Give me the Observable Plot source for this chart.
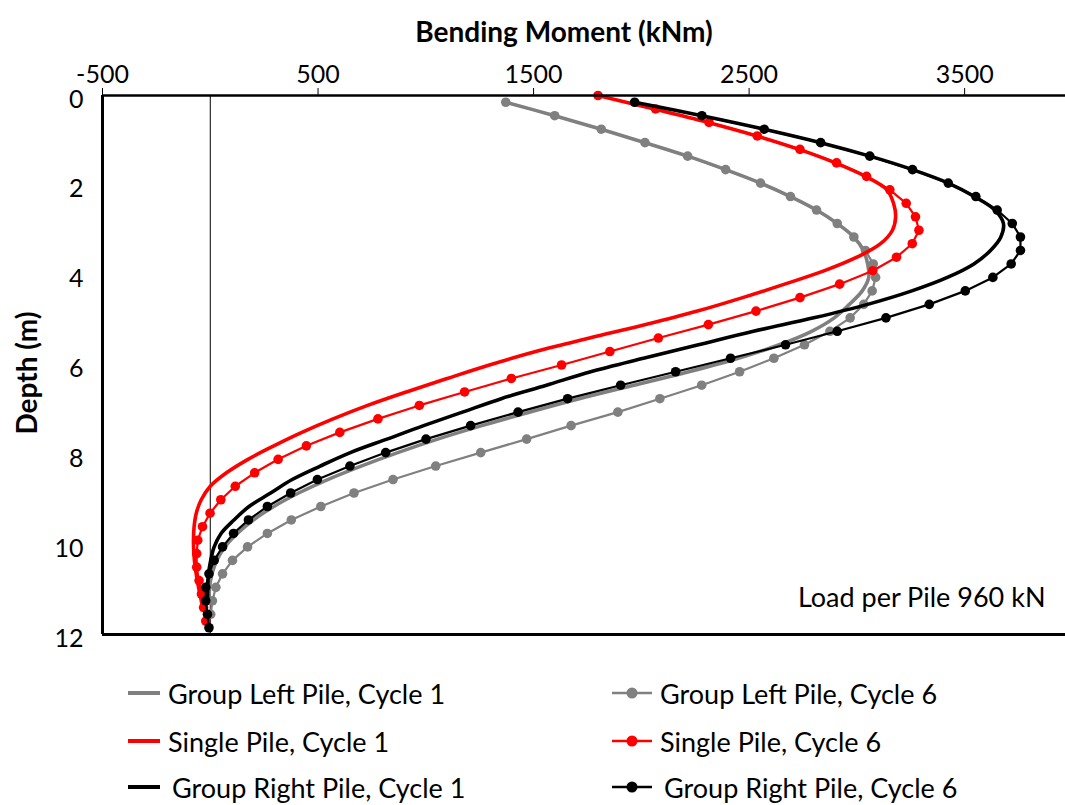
<!DOCTYPE html>
<html>
<head>
<meta charset="utf-8">
<script src="https://cdn.jsdelivr.net/npm/d3@7"></script>
<script src="https://cdn.jsdelivr.net/npm/@observablehq/plot@0.6"></script>
<style>
  body { margin: 0; background: #fff; }
  #wrap { position: relative; width: 1065px; height: 805px; font-family: Lato, "Open Sans", sans-serif; }
  .leg { position: absolute; display: flex; align-items: center; height: 40px; font-size: 27px; color: #000; white-space: nowrap; }
  .leg svg { display: block; }
</style>
</head>
<body>
<div id="wrap"><div id="chart"></div></div>
<script>
// ---- Data ----
const seriesNames = ["Group Left Pile, Cycle 1", "Group Left Pile, Cycle 6", "Single Pile, Cycle 1", "Single Pile, Cycle 6", "Group Right Pile, Cycle 1", "Group Right Pile, Cycle 6"];
const xTicks = [-500, 500, 1500, 2500, 3500];
const yTicks = [0, 2, 4, 6, 8, 10, 12];

// Group Left Pile, Cycle 1 (smooth line)
const glC1Depth = [0.15,0.45,0.75,1.05,1.35,1.65,1.95,2.25,2.55,2.85,3.15,3.45,3.75,4.05,4.35,4.65,4.95,5.25,5.55,5.85,6.15,6.45,6.75,7.05,7.35,7.65,7.95,8.25,8.55,8.85,9.15,9.45,9.75,10.05,10.35,10.65,10.95,11.25];
const glC1Moment = [1371,1598,1814,2017,2215,2391,2553,2692,2813,2909,2986,3030,3050,3055,3025,2965,2895,2790,2640,2450,2220,1965,1712,1480,1260,1055,870,700,545,410,295,200,125,68,30,8,-3,-5];

// Group Left Pile, Cycle 6 (markers)
const glC6Depth = [0.15,0.45,0.75,1.05,1.35,1.65,1.95,2.25,2.55,2.85,3.15,3.45,3.75,4.05,4.35,4.65,4.95,5.25,5.55,5.85,6.15,6.45,6.75,7.05,7.35,7.65,7.95,8.25,8.55,8.85,9.15,9.45,9.75,10.05,10.35,10.65,10.95,11.25,11.55];
const glC6Moment = [1371,1598,1814,2017,2215,2391,2553,2692,2813,2909,2986,3040,3076,3087,3071,3032,2969,2875,2757,2615,2456,2280,2086,1891,1674,1468,1255,1046,848,667,513,376,265,173,103,57,26,10,2];

// Single Pile, Cycle 1 (smooth line)
const spC1Depth = [0,0.3,0.6,0.9,1.2,1.5,1.8,2.1,2.4,2.7,3.0,3.3,3.6,3.9,4.2,4.5,4.8,5.1,5.4,5.7,6.0,6.3,6.6,6.9,7.2,7.5,7.8,8.1,8.4,8.7,9.0,9.3,9.6,9.9,10.2,10.5,10.8,11.1,11.4];
const spC1Moment = [1799,2060,2310,2535,2732,2900,3040,3140,3170,3180,3165,3110,3000,2850,2665,2470,2260,2020,1760,1510,1295,1100,910,730,570,425,295,175,75,0,-42,-65,-75,-78,-76,-70,-60,-48,-35];

// Single Pile, Cycle 6 (markers)
const spC6Depth = [0,0.3,0.6,0.9,1.2,1.5,1.8,2.1,2.4,2.7,3.0,3.3,3.6,3.9,4.2,4.5,4.8,5.1,5.4,5.7,6.0,6.3,6.6,6.9,7.2,7.5,7.8,8.1,8.4,8.7,9.0,9.3,9.6,9.9,10.2,10.5,10.8,11.1,11.4,11.7];
const spC6Moment = [1799,2066,2314,2538,2736,2906,3045,3153,3229,3272,3288,3257,3184,3074,2920,2736,2532,2311,2079,1854,1630,1397,1180,970,778,601,446,315,206,116,49,-1,-36,-58,-63,-63,-52,-41,-31,-21];

// Group Right Pile, Cycle 1 (smooth line)
const grC1Depth = [0.15,0.45,0.75,1.05,1.35,1.65,1.95,2.25,2.55,2.85,3.15,3.45,3.75,4.05,4.35,4.65,4.95,5.25,5.55,5.85,6.15,6.45,6.75,7.05,7.35,7.65,7.95,8.25,8.55,8.85,9.15,9.45,9.75,10.05,10.35,10.65,10.95,11.25];
const grC1Moment = [1969,2281,2570,2832,3060,3258,3424,3545,3640,3680,3668,3620,3543,3420,3255,3050,2800,2520,2265,2010,1765,1560,1350,1170,990,820,650,510,380,280,180,110,50,18,2,-8,-12,-12];

// Group Right Pile, Cycle 6 (markers)
const grC6Depth = [0.15,0.45,0.75,1.05,1.35,1.65,1.95,2.25,2.55,2.85,3.15,3.45,3.75,4.05,4.35,4.65,4.95,5.25,5.55,5.85,6.15,6.45,6.75,7.05,7.35,7.65,7.95,8.25,8.55,8.85,9.15,9.45,9.75,10.05,10.35,10.65,10.95,11.25,11.55,11.85];
const grC6Moment = [1969,2281,2570,2832,3060,3258,3424,3552,3651,3721,3759,3759,3716,3631,3503,3336,3135,2909,2669,2414,2159,1904,1658,1428,1208,1001,814,648,497,373,265,177,108,57,18,-6,-21,-21,-13,-6];

const colors = { gl: "#808080", sp: "#ff0000", gr: "#000000" };

function rows(name, depths, moments) {
  return depths.map((d, i) => ({ series: name, depth: d, moment: moments[i] }));
}
const glC1 = rows(seriesNames[0], glC1Depth, glC1Moment);
const glC6 = rows(seriesNames[1], glC6Depth, glC6Moment);
const spC1 = rows(seriesNames[2], spC1Depth, spC1Moment);
const spC6 = rows(seriesNames[3], spC6Depth, spC6Moment);
const grC1 = rows(seriesNames[4], grC1Depth, grC1Moment);
const grC6 = rows(seriesNames[5], grC6Depth, grC6Moment);

const smooth = (data, color) => Plot.line(data, { x: "moment", y: "depth", stroke: color, strokeWidth: 3.6, curve: "catmull-rom" });
const marked = (data, color) => [
  Plot.line(data, { x: "moment", y: "depth", stroke: color, strokeWidth: 2.2 }),
  Plot.dot(data, { x: "moment", y: "depth", r: 4.8, fill: color, stroke: "none" })
];

const chart = Plot.plot({
  width: 1065,
  height: 660,
  marginTop: 95,
  marginBottom: 26,
  marginLeft: 102,
  marginRight: 0,
  style: { fontFamily: "Lato, 'Open Sans', sans-serif", fontSize: "25px", color: "#000", background: "#fff" },
  x: { domain: [-500, 3968] },
  y: { domain: [0, 12], reverse: true },
  marks: [
    Plot.ruleX([0], { stroke: "#000", strokeWidth: 1 }),
    smooth(glC1, colors.gl),
    ...marked(glC6, colors.gl),
    smooth(spC1, colors.sp),
    ...marked(spC6, colors.sp),
    smooth(grC1, colors.gr),
    ...marked(grC6, colors.gr),
    Plot.ruleY([0], { stroke: "#000", strokeWidth: 2.5 }),
    Plot.ruleY([12], { stroke: "#000", strokeWidth: 3 }),
    Plot.ruleX([-500], { stroke: "#000", strokeWidth: 3 }),
    Plot.axisX({ anchor: "top", ticks: xTicks, tickSize: 8, tickPadding: 5, tickFormat: d => String(d), label: null, stroke: "#000", fill: "#000" }),
    Plot.axisY({ anchor: "left", ticks: yTicks, tickSize: 0, tickPadding: 19, tickFormat: d => String(d), label: null, dy: 4, fill: "#000" }),
    Plot.text(["Bending Moment (kNm)"], { frameAnchor: "top", dx: -20, dy: -73, textAnchor: "middle", fontWeight: "bold", fontSize: 28, fill: "#000" }),
    Plot.text(["Depth (m)"], { frameAnchor: "left", rotate: -90, textAnchor: "middle", dx: -74, dy: 8, fontWeight: "bold", fontSize: 28, fill: "#000" }),
    Plot.text(["Load per Pile 960 kN"], { frameAnchor: "bottom-right", dx: -20, dy: -28, textAnchor: "end", fontSize: 27, fill: "#000" })
  ]
});
document.getElementById("chart").appendChild(chart);

// ---- Legend (HTML below the SVG) ----
const legendItems = [
  { name: seriesNames[0], color: colors.gl, marker: false, x: 128, y: 693 },
  { name: seriesNames[1], color: colors.gl, marker: true, x: 612, y: 693 },
  { name: seriesNames[2], color: colors.sp, marker: false, x: 128, y: 741 },
  { name: seriesNames[3], color: colors.sp, marker: true, x: 612, y: 741 },
  { name: seriesNames[4], color: colors.gr, marker: false, x: 128, y: 787 },
  { name: seriesNames[5], color: colors.gr, marker: true, x: 612, y: 787 }
];
const wrap = document.getElementById("wrap");
legendItems.forEach((it, i) => {
  const div = document.createElement("div");
  div.className = "leg";
  div.style.left = it.x + "px";
  div.style.top = (it.y - 20) + "px";
  const w = it.marker ? 40 : 32;
  const gap = i >= 4 ? 12 : 8;
  let svg = `<svg width="${w}" height="14" style="margin-right:${gap}px">` +
    `<line x1="0" y1="7" x2="${w}" y2="7" stroke="${it.color}" stroke-width="${it.marker ? 2.5 : 4}"/>`;
  if (it.marker) svg += `<circle cx="${w / 2}" cy="7" r="5.5" fill="${it.color}"/>`;
  svg += `</svg>`;
  div.innerHTML = svg + `<span>${it.name}</span>`;
  wrap.appendChild(div);
});
</script>
</body>
</html>
